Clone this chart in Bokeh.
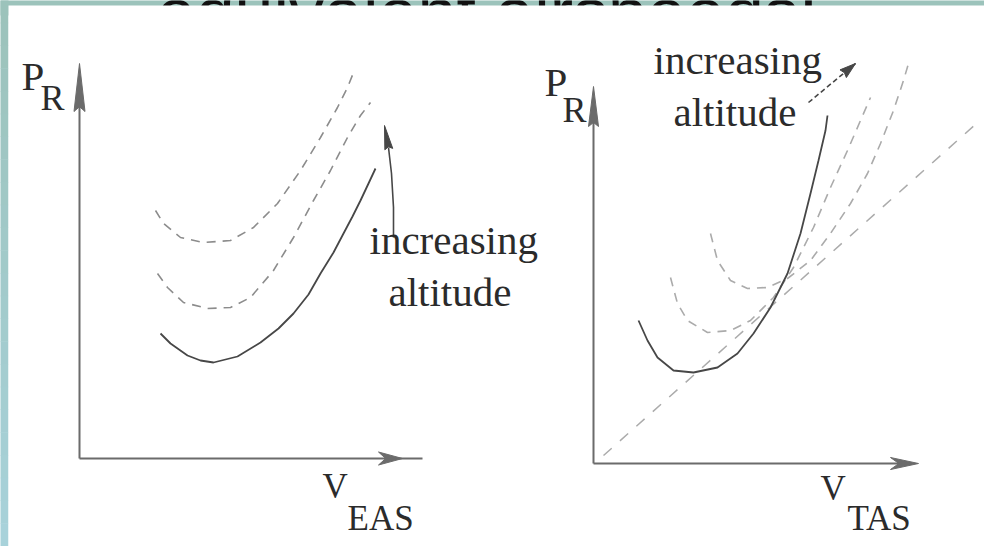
import math
from bokeh.plotting import figure
from bokeh.models import Range1d, Label
from bokeh.core.properties import value
from bokeh.embed import file_html
from bokeh.resources import INLINE

# ---------------- data (arbitrary units) ----------------
# Left panel: power required vs equivalent airspeed
eas_low_x = [8.1, 9.1, 10.8, 12.1, 13.4, 15.8, 18.1, 19.9, 21.4, 22.9, 24.1, 25.4, 26.4, 27.3, 28.1, 28.9, 29.6]
eas_low_y = [12.5, 11.5, 10.3, 9.8, 9.6, 10.2, 11.6, 13.0, 14.5, 16.4, 18.5, 20.6, 22.5, 24.2, 25.8, 27.5, 29.0]
eas_mid_x = [7.8, 8.8, 10.4, 12.8, 15.1, 17.1, 19.4, 21.4, 23.4, 25.1, 26.8, 28.1, 29.1]
eas_mid_y = [18.5, 17.1, 15.6, 15.0, 15.1, 16.1, 18.8, 22.1, 25.8, 28.8, 32.1, 34.3, 35.6]
eas_high_x = [7.6, 8.4, 10.1, 12.4, 15.1, 17.4, 19.8, 22.1, 24.1, 25.8, 26.8, 27.4]
eas_high_y = [24.8, 23.5, 22.1, 21.6, 21.8, 23.1, 25.5, 28.8, 32.1, 35.1, 37.1, 38.6]
eas_arrow_x = [31.4, 31.4, 31.2, 30.9, 30.5]
eas_arrow_y = [22.1, 25.1, 28.5, 31.1, 33.3]

# Right panel: power required vs true airspeed
tas_low_x = [4.5, 5.4, 6.4, 8.0, 10.0, 12.4, 14.4, 16.0, 17.7, 19.4, 20.7, 21.7, 22.5, 23.2, 23.4]
tas_low_y = [14.3, 12.3, 10.6, 9.3, 9.1, 9.6, 11.0, 13.0, 15.6, 19.0, 23.0, 27.0, 30.3, 33.3, 34.8]
tas_mid_x = [7.7, 8.4, 9.4, 11.4, 13.7, 15.7, 18.0, 20.0, 22.0, 23.7, 25.4, 26.7, 27.7]
tas_mid_y = [18.6, 16.0, 14.3, 13.1, 13.3, 14.3, 16.6, 19.6, 23.6, 27.6, 31.3, 34.3, 36.6]
tas_high_x = [11.7, 12.4, 13.7, 15.4, 17.4, 19.4, 21.7, 23.7, 25.7, 27.4, 28.7, 30.0, 31.0, 31.5]
tas_high_y = [23.0, 20.3, 18.3, 17.5, 17.6, 18.5, 20.3, 23.0, 26.0, 29.0, 32.0, 35.3, 38.3, 40.0]
tas_ray_x = [1.0, 38.3]
tas_ray_y = [0.8, 34.0]
tas_arrow_x = [21.5, 26.2]
tas_arrow_y = [36.1, 40.0]

# axis extents
eas_axis_x_end, eas_axis_x_tip, eas_axis_y_tip = 34.3, 32.3, 39.5
tas_axis_x_end, tas_axis_x_tip, tas_axis_y_tip = 32.5, 32.5, 37.7

title_text = "equivalent airspeeds:"
labels_increasing = ["increasing", "altitude"]

# ---------------- styling / layout ----------------
PX = 10.0           # screen pixels per data unit
W, H = 984, 546
EAS_ORIGIN = (79, 458)    # screen position of the left panel origin
TAS_ORIGIN = (593, 463)   # screen position of the right panel origin
TEXT_DY = 1.4       # baseline correction of the svg text renderer (data units)
AXIS = "#6b6b6b"
SOLID = "#474747"
DASH_L = "#8c8c8c"
DASH_R = "#ababab"
TXT = "#2b2b2b"
TEAL = "#9cc3bb"
SERIF = value("Liberation Serif")


def ranges(origin):
    ox, oy = origin
    return (Range1d(-ox / PX, (W - ox) / PX), Range1d((oy - H) / PX, oy / PX))


xr, yr = ranges(EAS_ORIGIN)
p = figure(width=W, height=H, output_backend="svg", toolbar_location=None,
           x_range=xr, y_range=yr)
txr, tyr = ranges(TAS_ORIGIN)
p.extra_x_ranges = {"tas": txr}
p.extra_y_ranges = {"tas": tyr}
p.axis.visible = False
p.grid.visible = False
p.outline_line_color = None
p.min_border = 0
p.background_fill_color = "white"
p.border_fill_color = "white"

EAS = dict(x_range_name="default", y_range_name="default")
TAS = dict(x_range_name="tas", y_range_name="tas")

# slide frame: teal title band, left strip, title line (mostly hidden), white content box
ox, oy = EAS_ORIGIN
p.quad(left=xr.start - 1, right=xr.end + 1, bottom=(oy - 5) / PX - 1, top=yr.end + 1,
       fill_color=TEAL, line_color=None, level="image")
n_band = 24
for i in range(n_band):
    t = i / (n_band - 1)
    r = int(0x9c + (0xa8 - 0x9c) * t)
    g = int(0xc3 + (0xd2 - 0xc3) * t)
    b = int(0xbb + (0xda - 0xbb) * t)
    p.quad(left=xr.start - 1, right=(8 - ox) / PX,
           top=(oy - H * i / n_band) / PX + (1 if i == 0 else 0.05),
           bottom=(oy - H * (i + 1) / n_band) / PX - (1 if i == n_band - 1 else 0),
           fill_color="#%02x%02x%02x" % (r, g, b), line_color=None, level="image")
p.add_layout(Label(x=(487 - ox) / PX, y=(oy - 12) / PX, text=title_text,
                   text_font="Liberation Sans", text_font_size="70px",
                   text_color="#111111", text_align="center",
                   text_baseline="alphabetic", level="underlay"))
p.quad(left=(8 - ox) / PX, right=xr.end + 1, bottom=yr.start - 1, top=(oy - 5) / PX,
       fill_color="white", line_color=None)


def head(tip, frm, length, width, notch, color, rn):
    tx, ty = tip
    fx, fy = frm
    dx, dy = tx - fx, ty - fy
    n = math.hypot(dx, dy)
    ux, uy = dx / n, dy / n
    L, Wd = length / PX, width / PX / 2
    bx, by = tx - ux * L, ty - uy * L
    nx, ny = -uy, ux
    cx, cy = tx - ux * L * (1 - notch), ty - uy * L * (1 - notch)
    p.patch([tx, bx + nx * Wd, cx, bx - nx * Wd], [ty, by + ny * Wd, cy, by - ny * Wd],
            fill_color=color, line_color=color, line_width=1, **rn)


def label(x, y, txt, size, rn):
    p.text(x=[x], y=[y + TEXT_DY], text=[txt], text_font=SERIF, text_font_size=size,
           text_color=TXT, text_baseline="alphabetic", text_align="left", **rn)


# ---------------- left panel ----------------
p.line([0, 0], [0, eas_axis_y_tip - 2], line_color=AXIS, line_width=2, **EAS)
head((0, eas_axis_y_tip), (0, 0), 48, 11, 0.1, AXIS, EAS)
p.line([0, eas_axis_x_end], [0, 0], line_color=AXIS, line_width=2, **EAS)
head((eas_axis_x_tip, 0), (0, 0), 24, 13, 0.3, AXIS, EAS)

p.line(eas_high_x, eas_high_y, line_color=DASH_L, line_width=1.6, line_dash="9 7", **EAS)
p.line(eas_mid_x, eas_mid_y, line_color=DASH_L, line_width=1.6, line_dash="9 7", **EAS)
p.line(eas_low_x, eas_low_y, line_color=SOLID, line_width=1.8, **EAS)
p.line(eas_arrow_x[:-1], eas_arrow_y[:-1], line_color=SOLID, line_width=1.6, **EAS)
head((eas_arrow_x[-1], eas_arrow_y[-1]), (eas_arrow_x[-2], eas_arrow_y[-2]), 24, 8, 0.1, SOLID, EAS)

label(-5.8, 36.9, "P", "41px", EAS)
label(-3.9, 34.7, "R", "36px", EAS)
label(24.3, -4.2, "V", "35px", EAS)
label(26.8, -7.4, "EAS", "35px", EAS)
label(29.0, 20.5, labels_increasing[0], "41px", EAS)
label(30.9, 15.3, labels_increasing[1], "41px", EAS)

# ---------------- right panel ----------------
p.line([0, 0], [0, tas_axis_y_tip - 2], line_color=AXIS, line_width=2, **TAS)
head((0, tas_axis_y_tip), (0, 0), 40, 10, 0.1, AXIS, TAS)
p.line([0, tas_axis_x_end - 1], [0, 0], line_color=AXIS, line_width=2, **TAS)
head((tas_axis_x_tip, 0), (0, 0), 28, 12, 0.3, AXIS, TAS)

p.line(tas_ray_x, tas_ray_y, line_color=DASH_R, line_width=1.5, line_dash="11 11", **TAS)
p.line(tas_high_x, tas_high_y, line_color=DASH_R, line_width=1.6, line_dash="9 7", **TAS)
p.line(tas_mid_x, tas_mid_y, line_color=DASH_R, line_width=1.6, line_dash="9 7", **TAS)
p.line(tas_low_x, tas_low_y, line_color=SOLID, line_width=1.8, **TAS)
p.line(tas_arrow_x, tas_arrow_y, line_color=SOLID, line_width=1.6, line_dash="5 3", **TAS)
head((tas_arrow_x[-1], tas_arrow_y[-1]), (tas_arrow_x[0], tas_arrow_y[0]), 16, 10, 0.1, SOLID, TAS)

label(-4.9, 36.8, "P", "41px", TAS)
label(-3.1, 34.0, "R", "36px", TAS)
label(22.7, -3.9, "V", "35px", TAS)
label(25.4, -6.9, "TAS", "35px", TAS)
label(6.0, 39.0, labels_increasing[0], "41px", TAS)
label(8.0, 33.8, labels_increasing[1], "41px", TAS)

open("out.html", "w").write(file_html(p, INLINE))
